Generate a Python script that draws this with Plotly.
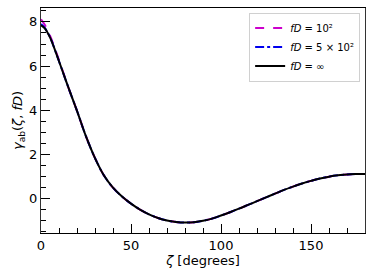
import plotly.graph_objects as go

zeta = [0, 2, 5, 10, 15, 20, 25, 30, 35, 40, 45, 50, 55, 60, 65, 70, 75, 80, 85, 90,
        95, 100, 105, 110, 115, 120, 125, 130, 135, 140, 145, 150, 155, 160, 165, 170, 175, 180]
gamma_inf = [7.85, 7.72, 7.3, 6.22, 5.08, 3.98, 2.82, 1.84, 1.05, 0.50, 0.10, -0.22, -0.49,
             -0.705, -0.87, -0.985, -1.05, -1.08, -1.06, -1.0, -0.90, -0.76, -0.61, -0.45, -0.28,
             -0.11, 0.06, 0.23, 0.40, 0.55, 0.69, 0.81, 0.92, 1.00, 1.06, 1.10, 1.115, 1.12]
gamma_500 = [7.9, 7.74, 7.31] + gamma_inf[3:]
gamma_100 = [8.12, 7.88, 7.38, 6.27] + gamma_inf[4:]

labels = ["<i>fD</i> = 10²", "<i>fD</i> = 5 × 10²", "<i>fD</i> = ∞"]

fig = go.Figure()
fig.add_trace(go.Scatter(x=zeta, y=gamma_100, mode="lines", name=labels[0],
                         line=dict(color="#cc00cc", width=2, dash="dash", shape="spline")))
fig.add_trace(go.Scatter(x=zeta, y=gamma_500, mode="lines", name=labels[1],
                         line=dict(color="#0000ee", width=2, dash="dashdot", shape="spline")))
fig.add_trace(go.Scatter(x=zeta, y=gamma_inf, mode="lines", name=labels[2],
                         line=dict(color="black", width=2, shape="spline")))

font = "DejaVu Sans"
fig.update_layout(
    width=373, height=279,
    margin=dict(l=41, r=8, t=8, b=46),
    paper_bgcolor="white", plot_bgcolor="white",
    font=dict(family=font, size=13, color="black"),
    showlegend=True,
    legend=dict(x=0.985, y=0.98, xanchor="right", yanchor="top",
                bgcolor="white", bordercolor="#d0d0d0", borderwidth=1,
                font=dict(size=10), itemwidth=30, tracegroupgap=0),
    xaxis=dict(range=[0, 180], tickvals=[0, 50, 100, 150], ticks="inside", ticklen=9,
               tickwidth=1.2, tickcolor="black", showline=True, linecolor="black",
               linewidth=1.2, mirror=True, showgrid=False, zeroline=False, automargin=False,
               minor=dict(dtick=10, ticks="inside", ticklen=4.5, tickcolor="black", tickwidth=1),
               title=dict(text="<i>ζ</i> [degrees]", standoff=2, font=dict(size=13))),
    yaxis=dict(range=[-1.55, 8.63], tickvals=[0, 2, 4, 6, 8], ticks="inside", ticklen=9,
               tickwidth=1.2, tickcolor="black", showline=True, linecolor="#333333",
               linewidth=1.4, mirror=True, showgrid=False, zeroline=False, automargin=False,
               minor=dict(dtick=0.5, ticks="inside", ticklen=4.5, tickcolor="black", tickwidth=1),
               title=dict(text="<i>γ</i><sub>ab</sub>(<i>ζ</i>, <i>fD</i>)", standoff=3,
                          font=dict(size=13))),
)
fig.write_html("out.html", config={"displayModeBar": False},
               post_script="document.body.style.margin='0px';")
